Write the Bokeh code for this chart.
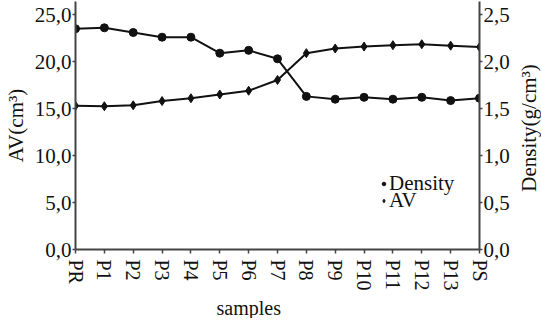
import math
from bokeh.plotting import figure
from bokeh.models import (LinearAxis, Range1d, FixedTicker, Legend, LegendItem, Title)
from bokeh.embed import file_html
from bokeh.resources import INLINE

samples = ["PR", "P1", "P2", "P3", "P4", "P5", "P6", "P7", "P8", "P9", "P10", "P11", "P12", "P13", "PS"]
density = [2.35, 2.36, 2.31, 2.26, 2.26, 2.09, 2.12, 2.03, 1.63, 1.60, 1.62, 1.60, 1.62, 1.585, 1.61]
av = [15.3, 15.25, 15.35, 15.8, 16.1, 16.5, 16.9, 18.05, 20.9, 21.4, 21.6, 21.75, 21.85, 21.7, 21.55]
av_ticks = [0, 5, 10, 15, 20, 25]
av_tick_labels = ["0,0", "5,0", "10,0", "15,0", "20,0", "25,0"]
den_ticks = [0, 0.5, 1.0, 1.5, 2.0, 2.5]
den_tick_labels = ["0,0", "0,5", "1,0", "1,5", "2,0", "2,5"]

FONT = "Liberation Serif"
AXC = "#444444"
TXT = "#111111"
xs = list(range(len(samples)))

# pad labels at their far end so that, drawn end-aligned at the axis, they start at a common baseline
PAD = {"PR": "\u2008", "PS": "\u2007"}
def padded(s):
    if s in PAD:
        return s + PAD[s]
    return s + ("\u2007" if len(s) == 2 else "")

p = figure(frame_width=404, frame_height=248, output_backend="svg", toolbar_location=None,
           x_range=Range1d(0, len(samples) - 1), y_range=Range1d(0, 26.4),
           min_border_left=68, min_border_right=61, min_border_top=1, min_border_bottom=50)
p.outline_line_color = None
p.xgrid.visible = False
p.ygrid.visible = False
p.extra_y_ranges = {"den": Range1d(0, 2.64)}

def style(ax):
    ax.axis_line_color = AXC
    ax.axis_line_width = 2
    ax.major_tick_line_color = AXC
    ax.major_tick_line_width = 1.5
    ax.major_tick_out = 3
    ax.major_tick_in = 0
    ax.minor_tick_line_color = None
    ax.major_label_text_font = FONT
    ax.major_label_text_font_size = "21px"
    ax.major_label_text_color = TXT
    ax.axis_label_text_font = FONT
    ax.axis_label_text_font_size = "21px"
    ax.axis_label_text_font_style = "normal"
    ax.axis_label_text_color = TXT
    ax.major_label_standoff = 1
    ax.axis_label_standoff = 4

xa = p.xaxis[0]
style(xa)
xa.ticker = FixedTicker(ticks=xs)
xa.major_label_overrides = {i: padded(s) for i, s in enumerate(samples)}
xa.major_label_orientation = "vertical"
xa.major_label_text_font_size = "20px"
xa.major_tick_out = 4
xa.major_label_standoff = 6

ya = p.yaxis[0]
style(ya)
ya.ticker = FixedTicker(ticks=av_ticks)
ya.major_label_overrides = {t: l for t, l in zip(av_ticks, av_tick_labels)}
ya.axis_label = "AV(cm³)"

ra = LinearAxis(y_range_name="den")
style(ra)
ra.ticker = FixedTicker(ticks=den_ticks)
ra.major_label_overrides = {t: l for t, l in zip(den_ticks, den_tick_labels)}
ra.axis_label = "\u2007" * 5 + "\u2008" + "Density(g/cm³)"
ra.axis_label_orientation = math.pi / 2
try:
    ra.axis_label_align = "start"
except Exception:
    ra.axis_label_align = "left"
ra.axis_label_standoff = 16
p.add_layout(ra, "right")

p.add_layout(Title(text="samples", align="left", offset=141, text_font=FONT,
                   text_font_size="20px", text_font_style="normal", text_color=TXT,
                   standoff=0), "below")

p.line(xs, av, line_color=TXT, line_width=2)
r_av = p.scatter(xs, av, marker="diamond", size=9, fill_color=TXT, line_color=TXT)
p.line(xs, density, line_color=TXT, line_width=2, y_range_name="den")
r_den = p.scatter(xs, density, marker="circle", size=8, fill_color=TXT, line_color=TXT,
                  y_range_name="den")

common = dict(background_fill_alpha=0, border_line_color=None,
              label_text_font=FONT, label_text_font_size="21px", label_text_color=TXT,
              glyph_width=9, glyph_height=9, label_standoff=1, spacing=0, padding=0,
              label_height=17, margin=0)
p.add_layout(Legend(items=[LegendItem(label="Density", renderers=[r_den])],
                    location=(304, 53), **common))
p.add_layout(Legend(items=[LegendItem(label="AV", renderers=[r_av])],
                    location=(304, 36), **common))

open("out.html", "w").write(file_html(p, INLINE))
